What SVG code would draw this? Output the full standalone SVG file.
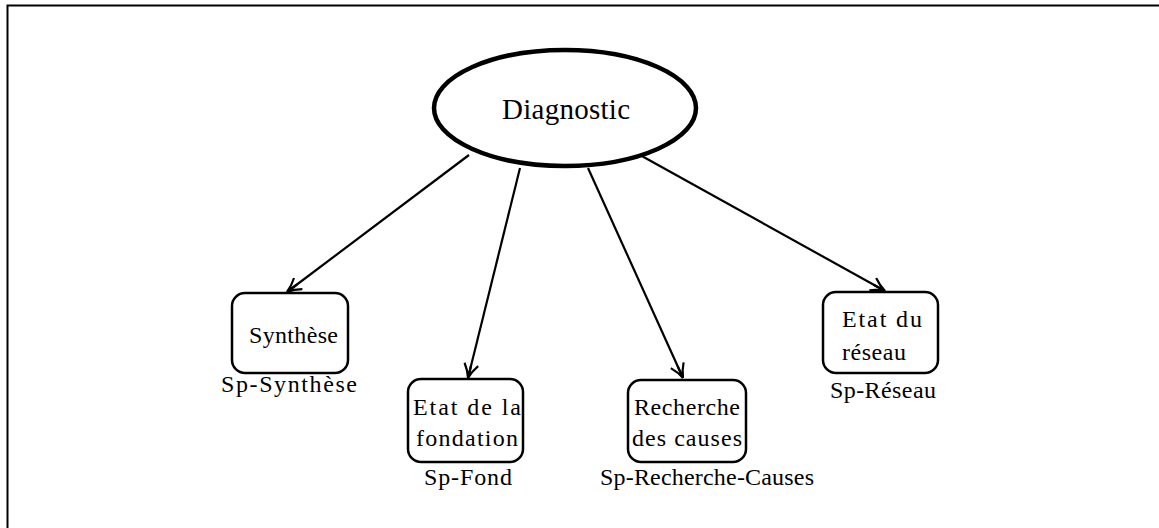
<svg xmlns="http://www.w3.org/2000/svg" width="1159" height="528" viewBox="0 0 1159 528">
<style>
text{font-family:'Liberation Serif','DejaVu Serif',serif;fill:#000}
.lbl{font-size:24px}
.box{fill:#fff;stroke:#000;stroke-width:2.5}
.edge{stroke:#000;stroke-width:2.2;fill:none}
</style>
<defs>
<marker id="ah" markerUnits="userSpaceOnUse" markerWidth="20" markerHeight="16" viewBox="-16 -8 18 16" refX="0" refY="0" orient="auto">
<path d="M0,0 Q-7,-2 -14,-7 M0,0 Q-7,2 -14,7 M0,0 L-13,0" stroke="#000" stroke-width="2.2" fill="none"/>
</marker>
</defs>
<rect width="1159" height="528" fill="#fff"/>
<g id="frame">
<path d="M7.5,528 V5.5 H1159" stroke="#000" stroke-width="2" fill="none"/>
</g>
<g id="connectors">
<line class="edge" x1="469" y1="155" x2="287" y2="292" marker-end="url(#ah)"/>
<line class="edge" x1="520" y1="168" x2="468" y2="378" marker-end="url(#ah)"/>
<line class="edge" x1="588" y1="168" x2="683" y2="378" marker-end="url(#ah)"/>
<line class="edge" x1="640" y1="155" x2="885" y2="291" marker-end="url(#ah)"/>
</g>
<g id="diagnostic">
<ellipse cx="565" cy="108" rx="131" ry="58" fill="#fff" stroke="#000" stroke-width="4.5"/>
<text x="566" y="119" font-family="Liberation Serif, serif" font-size="29" text-anchor="middle" textLength="128">Diagnostic</text>
</g>
<g id="synthese">
<rect class="box" x="232" y="293" width="116" height="80" rx="13"/>
<text class="lbl" x="249" y="343" font-family="Liberation Serif, serif" textLength="89">Synthèse</text>
<text class="lbl" x="221" y="392" font-family="Liberation Serif, serif" textLength="136">Sp-Synthèse</text>
</g>
<g id="fondation">
<rect class="box" x="408" y="379" width="115" height="83" rx="13"/>
<text class="lbl" x="413" y="415" font-family="Liberation Serif, serif" textLength="108">Etat de la</text>
<text class="lbl" x="416" y="446" font-family="Liberation Serif, serif" textLength="102">fondation</text>
<text class="lbl" x="424" y="485" font-family="Liberation Serif, serif" textLength="88">Sp-Fond</text>
</g>
<g id="recherche">
<rect class="box" x="628" y="380" width="118" height="82" rx="13"/>
<text class="lbl" x="634" y="415" font-family="Liberation Serif, serif" textLength="106">Recherche</text>
<text class="lbl" x="632" y="446" font-family="Liberation Serif, serif" textLength="110">des causes</text>
<text class="lbl" x="600" y="485" font-family="Liberation Serif, serif" textLength="214">Sp-Recherche-Causes</text>
</g>
<g id="reseau">
<rect class="box" x="823" y="292" width="115" height="81" rx="13"/>
<text class="lbl" x="842" y="327" font-family="Liberation Serif, serif" textLength="80">Etat du</text>
<text class="lbl" x="842" y="360" font-family="Liberation Serif, serif" textLength="64">réseau</text>
<text class="lbl" x="830" y="398" font-family="Liberation Serif, serif" textLength="106">Sp-Réseau</text>
</g>
</svg>
